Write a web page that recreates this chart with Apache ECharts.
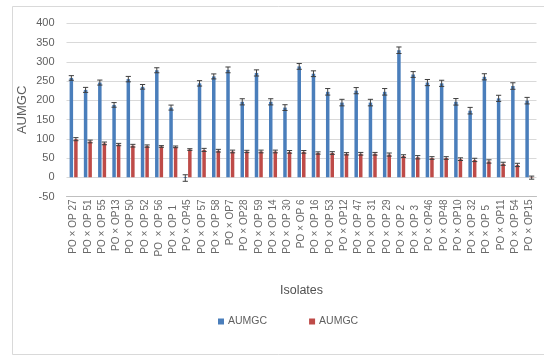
<!DOCTYPE html>
<html>
<head>
<meta charset="utf-8">
<script src="https://cdn.jsdelivr.net/npm/echarts@6/dist/echarts.min.js"></script>
<style>
  html, body { margin: 0; padding: 0; background: #ffffff; }
  #chart { width: 544px; height: 356px; }
</style>
</head>
<body>
<div id="chart"></div>
<script>
// Isolate crosses on the category axis
const isolates = [
  'PO × OP 27', 'PO × OP 51', 'PO × OP 55', 'PO × OP13', 'PO × OP 50', 'PO × OP 52',
  'PO  × OP 56', 'PO × OP 1  ', 'PO × OP45', 'PO × OP 57', 'PO × OP 58', 'PO × OP7',
  'PO × OP28', 'PO × OP 59', 'PO × OP 14', 'PO × OP 30', 'PO × OP 6', 'PO × OP 16',
  'PO × OP 53', 'PO × OP12', 'PO × OP 47', 'PO × OP 31', 'PO × OP 29', 'PO × OP 2  ',
  'PO × OP 3  ', 'PO × OP46', 'PO × OP48', 'PO × OP10', 'PO × OP 32', 'PO × OP 5  ',
  'PO × OP11', 'PO × OP 54', 'PO × OP15'
];

// AUMGC, first measurement (blue) and its error
const aumgcBlue = [258, 227, 246, 188, 255, 235, 278, 181, -2, 244, 262, 279, 196, 271, 196, 181,
  288, 269, 222, 194, 225, 194, 222, 330, 267, 246, 244, 196, 173, 261, 205, 237, 199];
const aumgcBlueErr = [6, 6.5, 6.5, 6, 7, 6, 6.5, 6.5, 8.5, 7, 6.5, 7.5, 8, 8, 8, 7.5,
  7.5, 7.5, 8.5, 8.5, 8, 8.5, 8.5, 8.5, 7.5, 8, 8, 8.5, 8.5, 8, 8, 8.5, 8.5];

// AUMGC, second measurement (red) and its error
const aumgcRed = [99, 93, 88, 85, 82, 81, 80, 79, 72, 71, 69, 67, 67, 67, 67, 66,
  66, 63, 63, 61, 61, 61, 59, 55, 52, 50, 50, 47, 45, 41, 35, 32, -1];
const aumgcRedErr = [4, 3.5, 3.5, 3, 3.5, 3, 2.2, 2.2, 2.2, 4, 3.5, 3.5, 3, 3.5, 3.5, 3.5,
  3.5, 3, 3.5, 3, 3.5, 3.5, 4, 3.5, 4.3, 3.5, 3.5, 3.5, 4.3, 4.3, 4, 4.3, 4];

// Y axis scale
const yMin = -50, yMax = 400, yStep = 50;

const BLUE = '#4a7ebb';
const RED = '#be4b48';
const TEXT = '#5f5f5f';
const FONT = 'Liberation Sans';
const BAR_W = 3.5;
const BAR_GAP = 0.3; // fraction of bar width
const OFFSET = (BAR_W + BAR_W * BAR_GAP) / 2;

function errorBars(offset) {
  return function (params, api) {
    const i = api.value(0), v = api.value(1), e = api.value(2);
    const top = api.coord([i, v + e]);
    const bot = api.coord([i, v - e]);
    const x = top[0] + offset;
    const cap = 2.6;
    const st = { stroke: '#3f3f3f', lineWidth: 1 };
    return {
      type: 'group',
      children: [
        { type: 'line', shape: { x1: x, y1: top[1], x2: x, y2: bot[1] }, style: st },
        { type: 'line', shape: { x1: x - cap, y1: top[1], x2: x + cap, y2: top[1] }, style: st },
        { type: 'line', shape: { x1: x - cap, y1: bot[1], x2: x + cap, y2: bot[1] }, style: st }
      ]
    };
  };
}

const chart = echarts.init(document.getElementById('chart'), null, { renderer: 'canvas' });

chart.setOption({
  backgroundColor: '#ffffff',
  animation: false,
  textStyle: { fontFamily: FONT },
  graphic: [{
    type: 'rect',
    shape: { x: 12.5, y: 6.5, width: 540, height: 348 },
    style: { fill: 'none', stroke: '#d9d9d9', lineWidth: 1 },
    silent: true
  }],
  grid: { left: 66.5, right: 7.5, top: 23.3, bottom: 159.5, containLabel: false },
  legend: {
    left: 213, top: 311,
    itemWidth: 6, itemHeight: 6, itemGap: 42,
    icon: 'rect',
    data: ['AUMGC_a', 'AUMGC_b'],
    formatter: function () { return 'AUMGC'; },
    textStyle: { color: TEXT, fontSize: 10.5, fontFamily: FONT, padding: [0, 0, 0, -1] }
  },
  xAxis: {
    type: 'category',
    data: isolates,
    name: 'Isolates',
    nameLocation: 'middle',
    nameGap: 88,
    nameMoveOverlap: false,
    nameTextStyle: { color: '#505050', fontSize: 12.5, fontFamily: FONT },
    axisLine: { onZero: false, lineStyle: { color: '#bfbfbf', width: 1 } },
    axisTick: { show: false },
    axisLabel: { interval: 0, rotate: 90, color: '#6a6a6a', fontSize: 10, fontFamily: FONT, margin: 3 },
    splitLine: { show: false }
  },
  yAxis: {
    type: 'value',
    min: yMin, max: yMax, interval: yStep,
    name: 'AUMGC',
    nameLocation: 'middle',
    nameGap: 38,
    nameMoveOverlap: false,
    nameTextStyle: { color: TEXT, fontSize: 13, fontFamily: FONT },
    axisLine: { show: false },
    axisTick: { show: false },
    axisLabel: { color: TEXT, fontSize: 11, fontFamily: FONT, margin: 12 },
    splitLine: { lineStyle: { color: '#d9d9d9', width: 1 } }
  },
  series: [
    {
      name: 'AUMGC_a', type: 'bar', data: aumgcBlue,
      barWidth: BAR_W, barGap: (BAR_GAP * 100) + '%',
      itemStyle: { color: BLUE }
    },
    {
      name: 'AUMGC_b', type: 'bar', data: aumgcRed,
      barWidth: BAR_W, barGap: (BAR_GAP * 100) + '%',
      itemStyle: { color: RED }
    },
    {
      name: 'errBlue', type: 'custom', z: 5,
      renderItem: errorBars(-OFFSET),
      encode: { x: 0, y: 1 },
      data: aumgcBlue.map((v, i) => [i, v, aumgcBlueErr[i]])
    },
    {
      name: 'errRed', type: 'custom', z: 5,
      renderItem: errorBars(OFFSET),
      encode: { x: 0, y: 1 },
      data: aumgcRed.map((v, i) => [i, v, aumgcRedErr[i]])
    }
  ]
});
</script>
</body>
</html>
